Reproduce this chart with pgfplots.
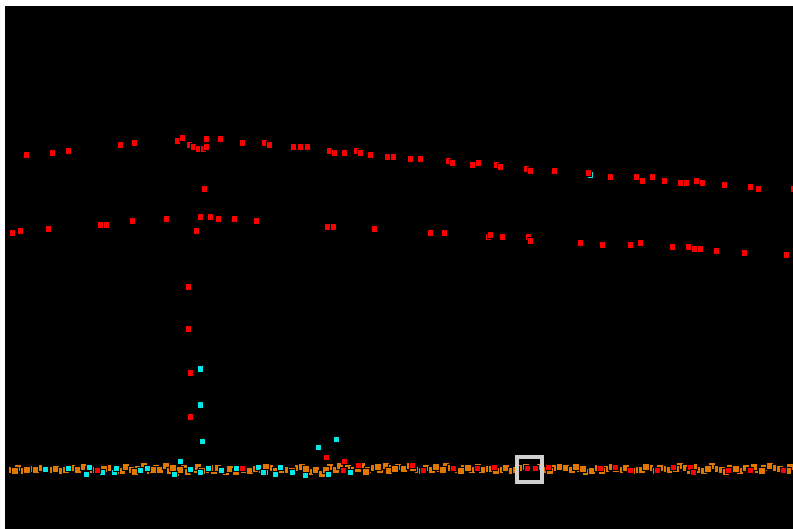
\documentclass[border=0pt]{standalone}
\usepackage{pgfplots}
\pgfplotsset{compat=1.18}
\definecolor{ptred}{RGB}{250,0,0}
\definecolor{ptcyan}{RGB}{0,232,232}
\definecolor{ptorange}{RGB}{224,120,0}
\definecolor{boxgray}{RGB}{208,208,208}
\begin{document}
\begin{tikzpicture}
\begin{axis}[
  scale only axis, width=793pt, height=529pt,
  xmin=0, xmax=793, ymin=0, ymax=529, y dir=reverse,
  axis lines=none, ticks=none, clip=true, clip marker paths=true,
]
\addplot[draw=none, fill=black] coordinates {(5,6)(793,6)(793,529)(5,529)} -- cycle;
% orange ground band
\addplot[only marks, mark=square*, mark size=3.5, mark options={draw=none, fill=ptorange}] coordinates {
(12,470)(18,468)(24,471)(30,469)(36,470)(42,468)(50,470)(56,469)(62,471)(72,468)(78,470)(84,467)(94,470)(100,471)(108,468)(122,471)(126,467)(132,470)(138,469)(144,466)(150,471)(156,468)(160,470)(166,466)(170,471)(176,473)(184,468)(188,472)(194,470)(198,467)(206,470)(214,471)(218,468)(226,472)(230,469)(244,470)(250,471)(256,469)(270,468)(276,471)(286,470)(298,468)(302,467)(310,472)(316,470)(322,474)(330,467)(336,470)(340,466)(348,468)(354,470)(362,466)(368,470)(374,468)(380,470)(386,466)(392,468)(398,467)(404,469)(410,466)(418,470)(426,468)(432,470)(440,469)(446,466)(458,470)(464,468)(472,470)(478,467)(486,469)(500,470)(506,468)(512,471)(520,468)(540,467)(554,468)(560,467)(566,468)(572,470)(580,469)(586,472)(592,471)(598,468)(606,469)(612,467)(620,470)(626,468)(636,470)(642,470)(650,468)(664,469)(670,470)(680,466)(686,468)(698,470)(704,471)(712,466)(718,469)(730,468)(740,471)(746,468)(758,470)(764,468)(770,466)(776,468)(784,470)(790,467)
(15,471)(27,470)(46,469)(66,470)(89,470)(104,469)(116,471)(135,472)(153,470)(173,468)(180,470)(202,471)(210,468)(222,470)(236,472)(240,468)(262,470)(266,467)(281,470)(292,471)(306,469)(326,470)(344,471)(358,469)(366,472)(378,467)(389,471)(395,469)(413,468)(422,471)(436,467)(443,470)(451,468)(461,471)(468,468)(482,470)(492,469)(496,471)(516,470)(526,467)(545,470)(550,471)(576,467)(583,469)(602,471)(616,469)(632,471)(646,467)(656,471)(660,468)(676,469)(690,471)(694,467)(708,469)(722,470)(726,472)(736,469)(750,471)(754,467)(762,471)(780,469)(788,471)
};
% cyan points
\addplot[only marks, mark=square*, mark size=3.3, mark options={draw=none, fill=ptcyan}] coordinates {
(590,175)(200,369)(200,405)(202,441)(180,461)(318,447)(336,439)
(45,469)(68,468)(89,467)(86,474)(102,472)(114,472)(116,468)(140,470)(147,468)(174,474)(190,469)(200,472)(208,468)(221,470)(236,468)(258,467)(265,472)
(263,472)(275,474)(280,467)(292,472)(305,475)(328,474)(350,472)
};
% red points
\addplot[only marks, mark=square*, mark size=3.3, mark options={draw=none, fill=ptred}] coordinates {
(26,155)(52,153)(68,151)(120,145)(134,143)(177,141)(182,138)(189,145)(193,147)(198,149)(203,149)(206,147)(206,139)(220,139)(242,143)(264,143)(269,145)(293,147)(300,147)(307,147)(329,151)(334,153)(344,153)(356,151)(360,153)(370,155)(387,157)(393,157)
(410,159)(420,159)(448,161)(452,163)(472,165)(478,163)(496,165)(500,167)(526,169)(530,171)(554,171)(588,173)(610,177)(636,177)(642,181)(652,177)(664,181)(680,183)(686,183)(696,181)(702,183)(724,185)(750,187)(758,189)(793,189)
(204,189)
(12,233)(20,231)(48,229)(100,225)(106,225)(132,221)(166,219)(200,217)(210,217)(218,219)(234,219)(256,221)(196,231)(327,227)(333,227)(374,229)
(430,233)(444,233)(488,237)(490,235)(502,237)(528,237)(530,241)(580,243)(602,245)(630,245)(640,243)(672,247)(688,247)(694,249)(700,249)(716,251)(744,253)(786,255)
(188,287)(188,329)(190,373)(190,417)(326,457)(344,461)(358,465)
(97,470)(242,468)(343,470)(412,465)(423,470)(453,468)(477,468)(494,467)(527,468)(535,468)(548,467)(600,468)(615,467)(630,470)(657,470)(673,467)(690,467)(693,472)(728,470)(750,470)(783,470)
};
% highlight box
\addplot[only marks, mark=square, mark size=12.5, mark options={draw=boxgray, line width=3.5pt}] coordinates {(529.5,469.5)};
\end{axis}
\path (0,0) rectangle (793pt,529pt);
\end{tikzpicture}
\end{document}
